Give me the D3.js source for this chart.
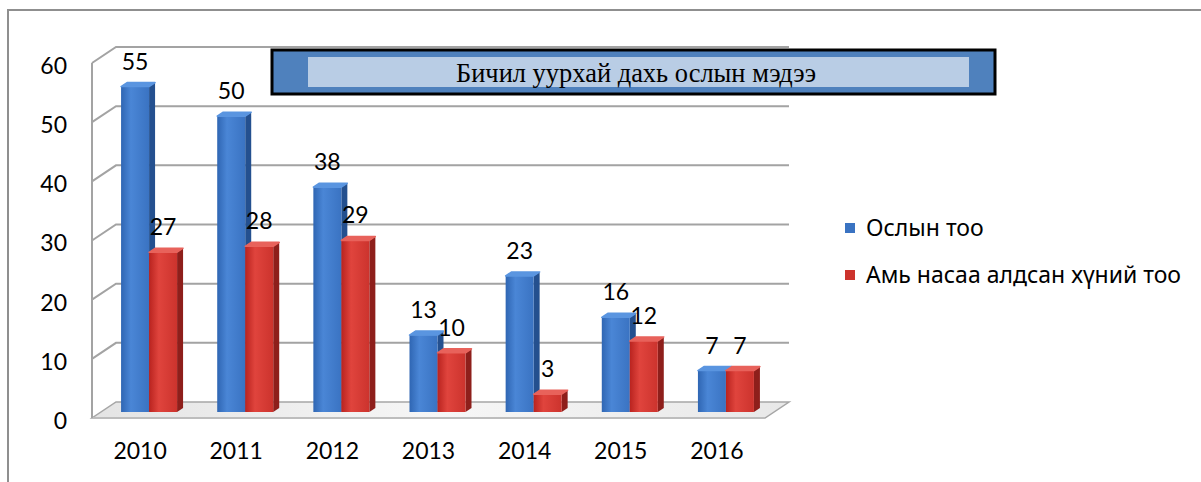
<!DOCTYPE html>
<html>
<head>
<meta charset="utf-8">
<script src="https://cdn.jsdelivr.net/npm/d3@7"></script>
<style>
  html, body { margin: 0; padding: 0; background: #fff; }
  svg { display: block; }
</style>
</head>
<body>
<svg id="chart" width="1201" height="482"></svg>
<script>
// ---- data ----
const years = ["2010", "2011", "2012", "2013", "2014", "2015", "2016"];
const accidents = [55, 50, 38, 13, 23, 16, 7];
const deaths = [27, 28, 29, 10, 3, 12, 7];
const seriesNames = ["Ослын тоо", "Амь насаа алдсан хүний тоо"];
const yTicks = [0, 10, 20, 30, 40, 50, 60];
const title = "Бичил уурхай дахь ослын мэдээ";

// ---- layout ----
const svg = d3.select("#chart");
const W = 1201, H = 482;
const numFont = "Lato, 'Noto Sans', sans-serif";
const txtFont = "'Noto Sans', 'Open Sans', sans-serif";
const numSize = 23;

const y = d3.scaleLinear().domain([0, 60]).range([418, 63]);
const x0 = d3.scaleBand().domain(years).range([92, 765]);
const x1 = d3.scaleBand().domain([0, 1]).range([0, 56]);
const DX = 24, DY = -16;       // wall depth
const MX = 12, MY = -6;        // bars placed at mid depth
const BDX = 6, BDY = -4;       // bar depth

const defs = svg.append("defs");
function hGrad(id, stops) {
  const g = defs.append("linearGradient").attr("id", id).attr("x1", "0%").attr("x2", "100%").attr("y1", "0%").attr("y2", "0%");
  stops.forEach(s => g.append("stop").attr("offset", s[0]).attr("stop-color", s[1]));
}
hGrad("blueFront", [["0%", "#2f66b3"], ["35%", "#4a86d6"], ["100%", "#3a73c2"]]);
hGrad("redFront", [["0%", "#b9231f"], ["35%", "#e0443d"], ["100%", "#cc332d"]]);
hGrad("floorG", [["0%", "#e4e4e4"], ["50%", "#f6f6f6"], ["100%", "#e8e8e8"]]);
const colors = [
  { front: "url(#blueFront)", side: "#24508f", top: "#5a95e0" },
  { front: "url(#redFront)", side: "#8e1f1b", top: "#e8625b" }
];

// outer border
svg.append("path")
  .attr("d", `M8,${H + 2} L8,10 L${W + 2},10`)
  .attr("fill", "none").attr("stroke", "#8f8f8f").attr("stroke-width", 2);

// floor
const fx0 = x0.range()[0], fx1 = x0.range()[1], fy = y(0);
svg.append("path")
  .attr("d", `M${fx0},${fy} L${fx1},${fy} L${fx1 + DX},${fy + DY} L${fx0 + DX},${fy + DY} Z`)
  .attr("fill", "url(#floorG)").attr("stroke", "#a6a6a6").attr("stroke-width", 1.5);
svg.append("rect")
  .attr("x", fx0).attr("y", fy - 1).attr("width", fx1 - fx0).attr("height", 2)
  .attr("fill", "#bdbdbd");

// gridlines: side wall + back wall
const grid = svg.append("g").attr("stroke", "#a3a3a3").attr("stroke-width", 2).attr("fill", "none");
yTicks.filter(v => v > 0).forEach(v => {
  grid.append("path")
    .attr("d", `M${fx0},${y(v)} L${fx0 + DX},${y(v) + DY} L${fx1 + DX},${y(v) + DY}`);
});
// side wall front edge
grid.append("line").attr("x1", fx0).attr("x2", fx0).attr("y1", y(60)).attr("y2", y(0));

// y axis labels
const yAxis = d3.axisLeft(y).tickValues(yTicks).tickSize(0).tickPadding(25);
const gy = svg.append("g").attr("transform", `translate(${fx0},3)`).call(yAxis);
gy.select(".domain").remove();
gy.selectAll("text").attr("font-family", numFont).attr("font-size", numSize).attr("fill", "#000");

// x axis labels
const xAxis = d3.axisBottom(x0).tickSize(0).tickPadding(25);
const gx = svg.append("g").attr("transform", `translate(0,${fy})`).call(xAxis);
gx.select(".domain").remove();
gx.selectAll("text").attr("font-family", numFont).attr("font-size", numSize).attr("fill", "#000");

// bars
const seriesVals = [accidents, deaths];
const barG = svg.append("g");
const labelG = svg.append("g");
years.forEach((yr, i) => {
  const groupLeft = x0(yr) + MX + (x0.bandwidth() - x1.range()[1] - BDX) / 2;
  [0, 1].forEach(s => {
    const v = seriesVals[s][i];
    const bx = groupLeft + x1(s);
    const bw = x1.bandwidth();
    const base = y(0) + MY;
    const top = y(v) + MY;
    const c = colors[s];
    // side face
    barG.append("path")
      .attr("d", `M${bx + bw},${top} L${bx + bw + BDX},${top + BDY} L${bx + bw + BDX},${base + BDY} L${bx + bw},${base} Z`)
      .attr("fill", c.side);
    // front face
    barG.append("rect")
      .attr("x", bx).attr("y", top).attr("width", bw).attr("height", base - top)
      .attr("fill", c.front);
    // top face
    barG.append("path")
      .attr("d", `M${bx},${top} L${bx + bw},${top} L${bx + bw + BDX},${top + BDY} L${bx + BDX},${top + BDY} Z`)
      .attr("fill", c.top).attr("stroke", c.top).attr("stroke-width", 1.5).attr("stroke-linejoin", "round");
    // label
    labelG.append("text")
      .attr("x", bx + bw / 2)
      .attr("y", top - 25)
      .attr("dy", "0.35em")
      .attr("text-anchor", "middle")
      .attr("font-family", numFont).attr("font-size", numSize).attr("fill", "#000")
      .text(v);
  });
});

// title box
const tb = svg.append("g");
tb.append("rect").attr("x", 272).attr("y", 50).attr("width", 723).attr("height", 44)
  .attr("fill", "#4f81bd").attr("stroke", "#000").attr("stroke-width", 3);
tb.append("rect").attr("x", 308).attr("y", 57).attr("width", 661).attr("height", 30)
  .attr("fill", "#b9cde5");
tb.append("text").attr("x", 636).attr("y", 73).attr("dy", "0.35em")
  .attr("text-anchor", "middle")
  .attr("font-family", "'Liberation Serif', 'DejaVu Serif', serif")
  .attr("font-size", 27).attr("fill", "#000")
  .attr("textLength", 360).attr("lengthAdjust", "spacingAndGlyphs")
  .text(title);

// legend
const legend = svg.append("g");
seriesNames.forEach((name, s) => {
  const ly = 228 + s * 47;
  legend.append("rect").attr("x", 845).attr("y", ly - 5).attr("width", 10).attr("height", 10)
    .attr("fill", s === 0 ? "#3a73c2" : "#cc332d");
  legend.append("text").attr("x", 866).attr("y", ly).attr("dy", "0.35em")
    .attr("font-family", txtFont).attr("font-size", 23).attr("fill", "#000")
    .text(name);
});
</script>
</body>
</html>
